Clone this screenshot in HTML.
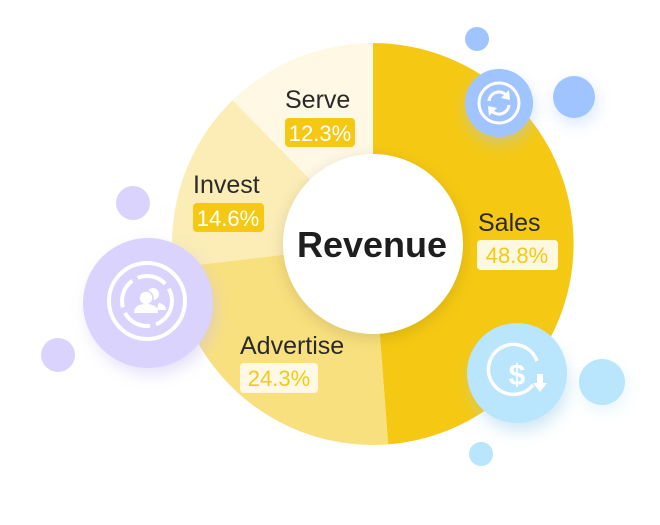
<!DOCTYPE html>
<html><head><meta charset="utf-8"><style>
html,body{margin:0;padding:0;background:#fff;width:660px;height:525px;overflow:hidden}
svg{display:block}
text{font-family:"Liberation Sans",sans-serif}
</style></head><body>
<svg width="660" height="525" viewBox="0 0 660 525">
<defs>
<filter id="sh" x="-50%" y="-50%" width="200%" height="200%"><feGaussianBlur stdDeviation="8"/></filter>
</defs>
<!-- donut -->
<path d="M373,43 A201,201 0 0 1 388.1,444.4 L379.8,333.7 A90,90 0 0 0 373,154 Z" fill="#F5C913"/>
<path d="M388.1,444.4 A201,201 0 0 1 173.4,267.8 L283.6,254.7 A90,90 0 0 0 379.8,333.7 Z" fill="#F9E07E"/>
<path d="M173.4,267.8 A201,201 0 0 1 232.6,100.1 L310.1,179.6 A90,90 0 0 0 283.6,254.7 Z" fill="#FBEDB5"/>
<path d="M232.6,100.1 A201,201 0 0 1 373,43 L373,154 A90,90 0 0 0 310.1,179.6 Z" fill="#FEF8E4"/>
<circle cx="373" cy="248" r="90" fill="#000" opacity="0.12" filter="url(#sh)"/>
<circle cx="373" cy="244" r="90" fill="#fff"/>
<text x="372" y="257" text-anchor="middle" font-size="36" font-weight="bold" fill="#1e1e1e">Revenue</text>
<!-- labels -->
<text x="285" y="108" font-size="25" fill="#2a2a2a">Serve</text>
<rect x="285" y="118" width="70" height="29" rx="4" fill="#F5C913"/>
<text x="320" y="141" text-anchor="middle" font-size="22" fill="#fff">12.3%</text>
<text x="193" y="193" font-size="25" fill="#2a2a2a">Invest</text>
<rect x="193" y="203" width="71" height="29" rx="4" fill="#F5C913"/>
<text x="228" y="226" text-anchor="middle" font-size="22" fill="#fff">14.6%</text>
<text x="478" y="231" font-size="25" fill="#2a2a2a">Sales</text>
<rect x="477" y="240" width="81" height="30" rx="4" fill="#FFF8E0"/>
<text x="517" y="263" text-anchor="middle" font-size="22" fill="#F5C913">48.8%</text>
<text x="240" y="354" font-size="25" fill="#2a2a2a">Advertise</text>
<rect x="240" y="363" width="78" height="30" rx="4" fill="#FFF8E4"/>
<text x="279" y="386" text-anchor="middle" font-size="22" fill="#F5C913">24.3%</text>
<!-- blue top right -->
<circle cx="477" cy="39" r="12" fill="#A0C4FF"/>
<circle cx="576" cy="103" r="21" fill="#A0C4FF" opacity="0.4" filter="url(#sh)"/>
<circle cx="574" cy="97" r="21" fill="#A0C4FF"/>
<circle cx="500" cy="110" r="33" fill="#A0C4FF" opacity="0.5" filter="url(#sh)"/>
<circle cx="499" cy="103" r="34" fill="#A0C4FF"/>
<circle cx="499" cy="103" r="20" fill="none" stroke="#fff" stroke-width="3"/>
<path d="M489,101 A10,10 0 0 1 507,96" fill="none" stroke="#fff" stroke-width="3"/>
<path d="M509,90 L510,100 L501,98 Z" fill="#fff"/>
<path d="M509,105 A10,10 0 0 1 491,110" fill="none" stroke="#fff" stroke-width="3"/>
<path d="M489,116 L488,106 L497,108 Z" fill="#fff"/>
<!-- purple -->
<circle cx="133" cy="203" r="17" fill="#DAD3FD"/>
<circle cx="58" cy="355" r="17" fill="#DAD3FD"/>
<circle cx="152" cy="310" r="64" fill="#C8C0F0" opacity="0.5" filter="url(#sh)"/>
<circle cx="148" cy="303" r="65" fill="#DAD3FD"/>
<circle cx="147" cy="301" r="38" fill="none" stroke="#fff" stroke-width="4"/>
<circle cx="147" cy="301" r="25" fill="none" stroke="#fff" stroke-width="4" stroke-dasharray="30 6"/>
<circle cx="153" cy="294" r="6" fill="#fff"/>
<circle cx="146" cy="298" r="7" fill="#fff" stroke="#DAD3FD" stroke-width="1.5"/>
<path d="M134,313 Q134,304 146,304 Q158,304 158,313 Z" fill="#fff"/>
<path d="M157,310 Q158,302 160,303 Q166,305 166,310 Z" fill="#fff"/>
<!-- light blue -->
<circle cx="481" cy="454" r="12" fill="#B9E5FD"/>
<circle cx="604" cy="388" r="22" fill="#B9E5FD" opacity="0.4" filter="url(#sh)"/>
<circle cx="602" cy="382" r="23" fill="#B9E5FD"/>
<circle cx="520" cy="383" r="48" fill="#9ECFEA" opacity="0.5" filter="url(#sh)"/>
<circle cx="517" cy="373" r="50" fill="#B9E5FD"/>
<path d="M533,385 A25,25 0 1 1 537,361" fill="none" stroke="#fff" stroke-width="3.5"/>
<text x="517" y="385" text-anchor="middle" font-size="30" font-weight="bold" fill="#fff">$</text>
<rect x="537" y="374" width="6" height="10" fill="#fff"/>
<path d="M533,383 L547,383 L540,392 Z" fill="#fff"/>
</svg>
</body></html>
